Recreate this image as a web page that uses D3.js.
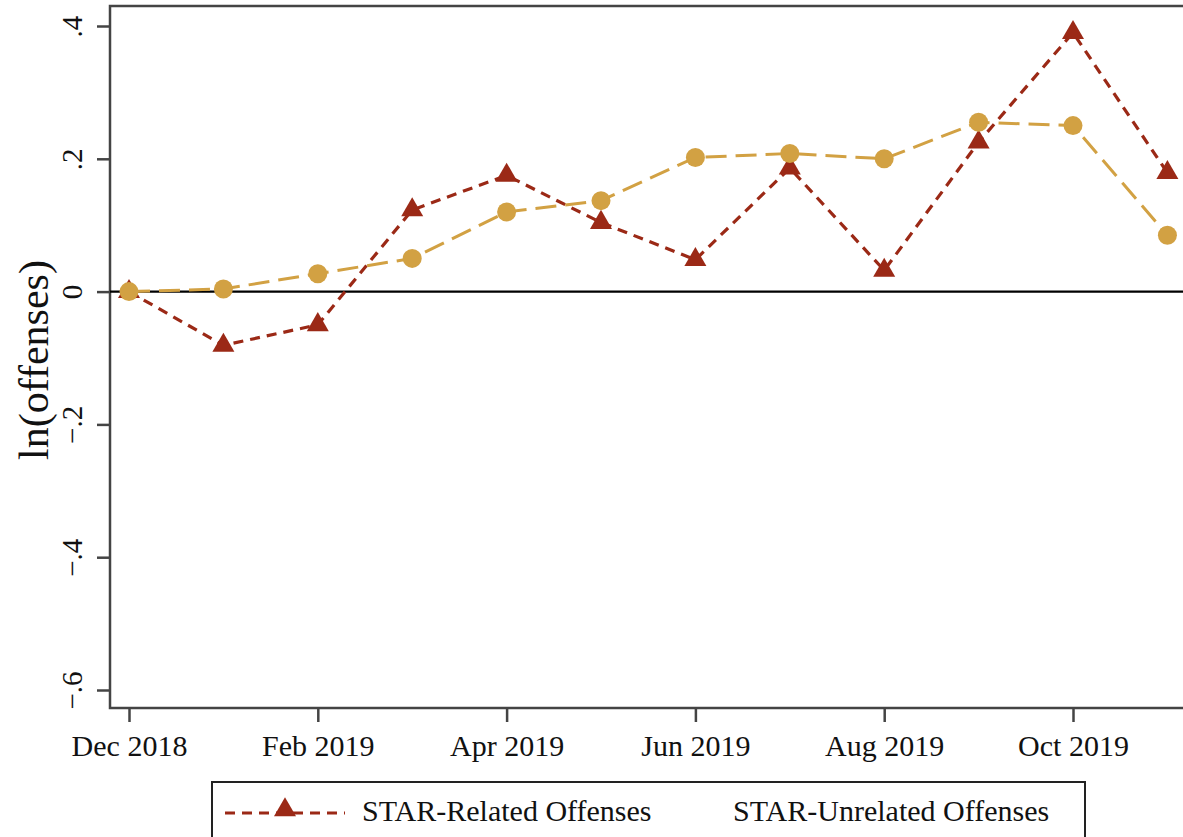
<!DOCTYPE html>
<html>
<head>
<meta charset="utf-8">
<script src="https://cdn.jsdelivr.net/npm/d3@7"></script>
<style>
  body { margin: 0; background: #fff; }
  text { font-family: "Liberation Serif", "DejaVu Serif", serif; fill: #111; }
</style>
</head>
<body>
<div id="vis"></div>
<script>
// monthly values
var months = ["Dec 2018", "Jan 2019", "Feb 2019", "Mar 2019", "Apr 2019", "May 2019",
              "Jun 2019", "Jul 2019", "Aug 2019", "Sep 2019", "Oct 2019", "Nov 2019"];
var related   = [0, -0.081, -0.050, 0.123, 0.175, 0.104, 0.048, 0.186, 0.032, 0.225, 0.390, 0.179];
var unrelated = [0, 0.004, 0.027, 0.050, 0.120, 0.137, 0.202, 0.208, 0.200, 0.255, 0.250, 0.085];
var yTicks = [-0.6, -0.4, -0.2, 0, 0.2, 0.4];
var xTicks = ["Dec 2018", "Feb 2019", "Apr 2019", "Jun 2019", "Aug 2019", "Oct 2019"];
var seriesNames = ["STAR-Related Offenses", "STAR-Unrelated Offenses"];

var width = 1183, height = 837;
var red = "#9b2916", gold = "#d2a143";

var svg = d3.select("#vis").append("svg")
    .attr("width", width)
    .attr("height", height);

// plot region
var plot = {left: 110, top: 6, right: 1192, bottom: 708};

var x = d3.scaleLinear()
    .domain([0, months.length - 1])
    .range([129, 1167.4]);

var y = d3.scaleLinear()
    .domain([-0.6, 0.4])
    .range([690, 26]);

// frame (right side runs off the canvas)
svg.append("rect")
    .attr("x", plot.left)
    .attr("y", plot.top)
    .attr("width", plot.right - plot.left)
    .attr("height", plot.bottom - plot.top)
    .attr("fill", "none")
    .attr("stroke", "#444")
    .attr("stroke-width", 2.5);

// zero line
svg.append("line")
    .attr("x1", plot.left).attr("x2", plot.right)
    .attr("y1", y(0)).attr("y2", y(0))
    .attr("stroke", "#000")
    .attr("stroke-width", 2.2);

// y axis
var fmt = function(d) { return d === 0 ? "0" : d3.format(".1f")(d).replace("0.", "."); };
var yAxis = svg.append("g")
    .attr("transform", "translate(" + plot.left + ",0)")
    .call(d3.axisLeft(y).tickValues(yTicks).tickSize(13).tickFormat(fmt));
yAxis.select(".domain").remove();
yAxis.selectAll(".tick line").attr("stroke", "#444").attr("stroke-width", 2.5);
yAxis.selectAll(".tick text")
    .attr("x", 0).attr("y", 0).attr("dy", 0)
    .attr("text-anchor", "middle")
    .attr("transform", "translate(-28,0) rotate(-90)")
    .style("font-size", "29px")
    .style("font-family", "Liberation Serif, serif")
    .attr("fill", "#111");

// x axis
var xAxis = svg.append("g")
    .attr("transform", "translate(0," + plot.bottom + ")")
    .call(d3.axisBottom(x)
      .tickValues(xTicks.map(function(m) { return months.indexOf(m); }))
      .tickSize(14)
      .tickFormat(function(i) { return months[i]; }));
xAxis.select(".domain").remove();
xAxis.selectAll(".tick line").attr("stroke", "#444").attr("stroke-width", 2.5);
xAxis.selectAll(".tick text")
    .attr("y", 48).attr("dy", 0)
    .style("font-size", "30px")
    .style("font-family", "Liberation Serif, serif")
    .attr("fill", "#111");

// y title
svg.append("text")
    .attr("transform", "translate(48,360) rotate(-90)")
    .attr("text-anchor", "middle")
    .style("font-size", "42px")
    .text("ln(offenses)");

var line = d3.line()
    .x(function(d, i) { return x(i); })
    .y(function(d) { return y(d); });

var tri = d3.symbol().type(d3.symbolTriangle).size(210);

// STAR-related
svg.append("path")
    .datum(related)
    .attr("d", line)
    .attr("fill", "none")
    .attr("stroke", red)
    .attr("stroke-width", 3.2)
    .attr("stroke-dasharray", "10,7");

svg.append("g").selectAll("path")
    .data(related)
    .enter().append("path")
      .attr("d", tri)
      .attr("transform", function(d, i) { return "translate(" + x(i) + "," + y(d) + ")"; })
      .attr("fill", red);

// STAR-unrelated
svg.append("path")
    .datum(unrelated)
    .attr("d", line)
    .attr("fill", "none")
    .attr("stroke", gold)
    .attr("stroke-width", 3)
    .attr("stroke-dasharray", "21,9");

svg.append("g").selectAll("circle")
    .data(unrelated)
    .enter().append("circle")
      .attr("cx", function(d, i) { return x(i); })
      .attr("cy", function(d) { return y(d); })
      .attr("r", 9.5)
      .attr("fill", gold);

// legend (bottom runs off the canvas)
var legend = svg.append("g");
legend.append("rect")
    .attr("x", 212).attr("y", 782)
    .attr("width", 873).attr("height", 80)
    .attr("fill", "#fff")
    .attr("stroke", "#222")
    .attr("stroke-width", 2);

legend.append("line")
    .attr("x1", 225).attr("x2", 345)
    .attr("y1", 813).attr("y2", 813)
    .attr("stroke", red)
    .attr("stroke-width", 3.2)
    .attr("stroke-dasharray", "10,7");
legend.append("path")
    .attr("d", tri)
    .attr("transform", "translate(285,810)")
    .attr("fill", red);

legend.append("text")
    .attr("x", 362).attr("y", 821)
    .style("font-size", "30px")
    .text(seriesNames[0]);
legend.append("text")
    .attr("x", 733).attr("y", 821)
    .style("font-size", "30px")
    .text(seriesNames[1]);
</script>
</body>
</html>
